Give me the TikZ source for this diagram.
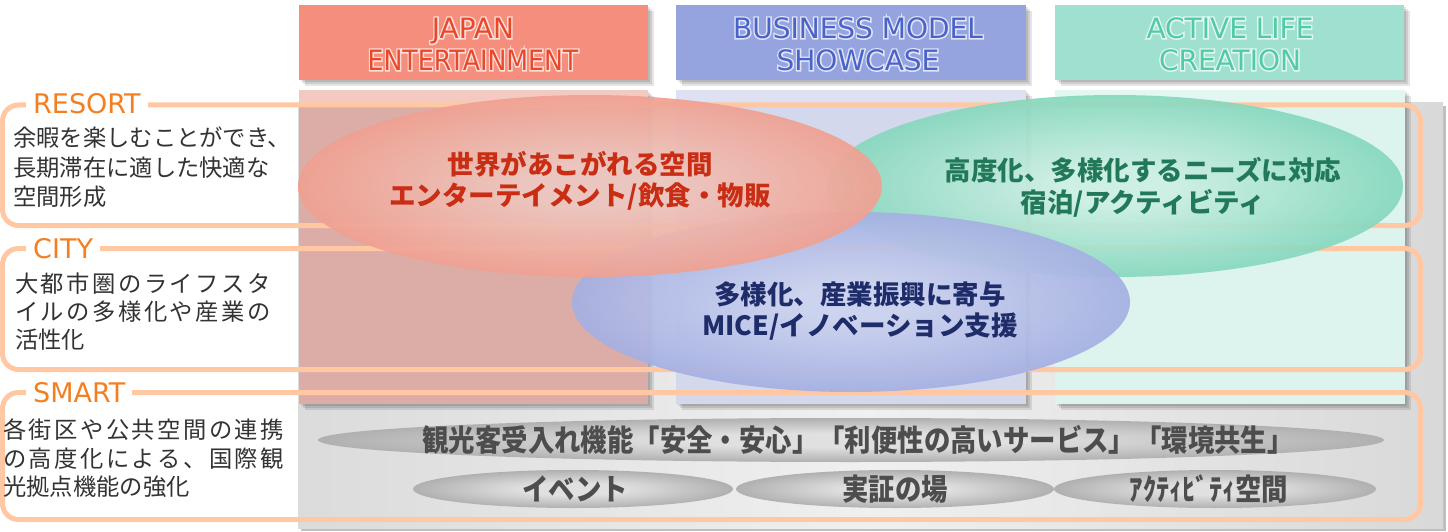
\documentclass[tikz,border=0pt]{standalone}
\usepackage{fontspec}
\usepackage{graphicx}
\setmainfont{DejaVu Sans}
\newfontfamily\jp{Noto Sans CJK JP}
\newfontfamily\hdr{DejaVu Sans}
\newfontfamily\hdrglow[FakeBold=10]{DejaVu Sans}
\definecolor{peach}{HTML}{FFC8A2}
\definecolor{labelorange}{HTML}{F47F20}
\definecolor{bodygray}{HTML}{333333}
\definecolor{pinkhdr}{HTML}{F58E7D}
\definecolor{bluehdr}{HTML}{95A4DE}
\definecolor{greenhdr}{HTML}{A0E0D0}
\definecolor{pinktxt}{HTML}{E8472A}
\definecolor{bluetxt}{HTML}{4A63C8}
\definecolor{greentxt}{HTML}{4FCBA5}
\definecolor{pinkcol}{HTML}{DCACA7}
\definecolor{pinktop}{HTML}{F3C9C2}
\definecolor{bluecol}{HTML}{D3D8EC}
\definecolor{bluetop}{HTML}{DDE1F2}
\definecolor{greencol}{HTML}{DDF4EE}
\definecolor{greentop}{HTML}{E3F7F2}
\definecolor{redin}{HTML}{EDC9C2}
\definecolor{redout}{HTML}{F2836E}
\definecolor{grnin}{HTML}{CDEFE4}
\definecolor{grnout}{HTML}{52C7A1}
\definecolor{bluin}{HTML}{CCD3EF}
\definecolor{bluout}{HTML}{8896D9}
\definecolor{gryin}{HTML}{E0E0E0}
\definecolor{gryout}{HTML}{868686}
\definecolor{redtext}{HTML}{C92E14}
\definecolor{grntext}{HTML}{22795A}
\definecolor{blutext}{HTML}{1E2C6A}
\definecolor{greytxt}{HTML}{4D4D4D}
\pgfdeclareradialshading{redrad}{\pgfpointorigin}{color(0bp)=(redin); color(5bp)=(redin); color(40bp)=(redout); color(50bp)=(redout)}
\pgfdeclareradialshading{grnrad}{\pgfpointorigin}{color(0bp)=(grnin); color(5bp)=(grnin); color(40bp)=(grnout); color(50bp)=(grnout)}
\pgfdeclareradialshading{blurad}{\pgfpointorigin}{color(0bp)=(bluin); color(5bp)=(bluin); color(40bp)=(bluout); color(50bp)=(bluout)}
\pgfdeclareradialshading{gryrad}{\pgfpointorigin}{color(0bp)=(gryin); color(8bp)=(gryin); color(40bp)=(gryout); color(50bp)=(gryout)}
\def\jsploop#1{\ifx\relax#1\else#1\hfil\expandafter\jsploop\fi}
\newcommand\jsp[2]{\makebox[#1pt][s]{\jsploop#2\relax}}
\begin{document}
\begin{tikzpicture}[x=1pt,y=-1pt,
  hdrtext/.style={font=\hdr\fontsize{28}{32}\selectfont, align=center, inner sep=0pt},
  hdrhalo/.style={font=\hdrglow\fontsize{28}{32}\selectfont, align=center, inner sep=0pt, text=white, opacity=0.7},
  rowbox/.style={draw=peach, line width=5pt, rounded corners=16pt},
  rowlabel/.style={font=\hdr\fontsize{27}{30}\selectfont, text=labelorange, fill=white, inner xsep=7pt, inner ysep=3pt, anchor=west},
  bodytext/.style={font=\jp\fontsize{23.3}{28}\selectfont, text=bodygray, inner sep=0pt, anchor=west},
  elltext/.style={font=\jp\bfseries\fontsize{26.5}{31.5}\selectfont, align=center, inner sep=0pt},
  greytext/.style={font=\jp\bfseries\fontsize{30}{32}\selectfont, text=greytxt, inner sep=0pt},
  shadowA/.style={fill=black, opacity=0.10},
]
\useasboundingbox (0,0) rectangle (1448,532);
\fill[white] (0,0) rectangle (1448,532);
% grey background panel
\fill[black!25] (301,106) rectangle (1446,531);
\shade[left color=black!14, right color=black!15, middle color=black!6] (298,103) rectangle (1443,528);
% column shadows
\foreach \s in {2,4,6}{
  \fill[shadowA] (299+\s,90+\s) rectangle (648+\s,404+\s);
  \fill[shadowA] (676+\s,90+\s) rectangle (1026+\s,404+\s);
  \fill[shadowA] (1055+\s,90+\s) rectangle (1405+\s,404+\s);
}
% columns
\fill[pinkcol] (299,90) rectangle (648,404);
\fill[pinktop] (299,90) rectangle (648,103);
\fill[bluecol] (676,90) rectangle (1026,404);
\fill[bluetop] (676,90) rectangle (1026,103);
\fill[greencol] (1055,90) rectangle (1405,404);
\fill[greentop] (1055,90) rectangle (1405,103);
% header shadows and headers
\foreach \s in {2,4,6}{
  \fill[shadowA] (299+\s,5+\s) rectangle (648+\s,80+\s);
  \fill[shadowA] (676+\s,5+\s) rectangle (1026+\s,80+\s);
  \fill[shadowA] (1055+\s,5+\s) rectangle (1404+\s,80+\s);
}
\fill[pinkhdr] (299,5) rectangle (648,80);
\fill[bluehdr] (676,5) rectangle (1026,80);
\fill[greenhdr] (1055,5) rectangle (1404,80);
% header halo and text
\node[hdrhalo] at (473,44) {JAPAN\\\scalebox{0.9}[1]{ENTERTAINMENT}};
\node[hdrhalo] at (858,44) {BUSINESS MODEL\\SHOWCASE};
\node[hdrhalo] at (1230,44) {ACTIVE LIFE\\CREATION};
\node[hdrtext, text=pinktxt] (hjapan) at (473,44) {JAPAN\\\scalebox{0.9}[1]{ENTERTAINMENT}};
\node[hdrtext, text=bluetxt] (hbiz) at (858,44) {BUSINESS MODEL\\SHOWCASE};
\node[hdrtext, text=greentxt] (hact) at (1230,44) {ACTIVE LIFE\\CREATION};
% rows
\draw[rowbox] (2.5,105) rectangle (1420.5,225.5);
\draw[rowbox] (2.5,248.5) rectangle (1420.5,369.5);
\draw[rowbox] (2.5,392.5) rectangle (1420.5,519.5);
\node[rowlabel] (lresort) at (26,104) {RESORT};
\node[rowlabel] (lcity) at (26,249) {CITY};
\node[rowlabel] (lsmart) at (26,393) {SMART};
% left body text
\node[bodytext] (r1) at (13,138) {余暇を楽しむことができ、};
\node[bodytext] (r2) at (13,167.5) {長期滞在に適した快適な};
\node[bodytext] (r3) at (13,197) {空間形成};
\node[bodytext] (c1) at (15,284) {\jsp{258}{大都市圏のライフスタ}};
\node[bodytext] (c2) at (15,312) {\jsp{258}{イルの多様化や産業の}};
\node[bodytext] (c3) at (15,340) {活性化};
\node[bodytext] (s1) at (3,430) {\jsp{283}{各街区や公共空間の連携}};
\node[bodytext] (s2) at (3,459) {\jsp{283}{の高度化による、国際観}};
\node[bodytext] (s3) at (3,487) {光拠点機能の強化};
% coloured ellipses
\shade[shading=grnrad, opacity=0.93] (1115,186) ellipse [x radius=288pt, y radius=91pt];
\shade[shading=blurad, opacity=0.93] (851,302) ellipse [x radius=279pt, y radius=90pt];
\shade[shading=redrad, opacity=0.93] (590,186) ellipse [x radius=292pt, y radius=91pt];
\node[elltext, text=redtext] (ered) at (580,181) {世界があこがれる空間\\エンターテイメント/飲食・物販};
\node[elltext, text=grntext] (egrn) at (1143,187.5) {高度化、多様化するニーズに対応\\宿泊/アクティビティ};
\node[elltext, text=blutext] (eblu) at (860,311) {多様化、産業振興に寄与\\MICE/イノベーション支援};
% grey ellipses
\shade[shading=gryrad] (851,440) ellipse [x radius=533pt, y radius=22pt];
\shade[shading=gryrad] (573,489) ellipse [x radius=160pt, y radius=19pt];
\shade[shading=gryrad] (895,489) ellipse [x radius=159pt, y radius=19pt];
\shade[shading=gryrad] (1215,489) ellipse [x radius=161pt, y radius=19pt];
\node[greytext] (gbig) at (858,440) {\scalebox{0.88}[1]{観光客受入れ機能「安全・安心」「利便性の高いサービス」「環境共生」}};
\node[greytext] (gev) at (575,489) {\scalebox{0.88}[1]{イベント}};
\node[greytext] (gjs) at (895,489) {\scalebox{0.88}[1]{実証の場}};
\node[greytext] (gac) at (1209,489) {\scalebox{0.88}[1]{ｱｸﾃｨﾋﾞﾃｨ空間}};
\end{tikzpicture}
\end{document}
